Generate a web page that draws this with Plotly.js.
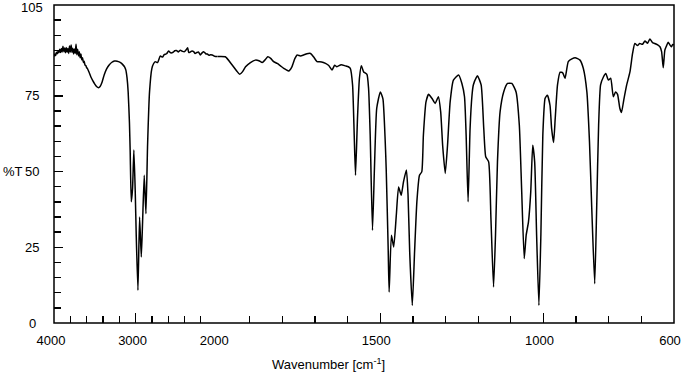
<!DOCTYPE html>
<html>
<head>
<meta charset="utf-8">
<script src="https://cdn.plot.ly/plotly-3.0.1.min.js"></script>
<style>html,body{margin:0;padding:0;background:#fff}#chart{width:683px;height:375px}</style>
</head>
<body>
<div id="chart"></div>
<script>
// Wavenumber (cm-1) and transmittance (%T)
const wavenumber = [
4000,3990,3980,3970,3960,3950,3940,3930,3920,3910,3900,3890,3880,3870,3860,3850,3840,3830,3820,3810,
3800,3790,3780,3770,3760,3750,3740,3730,3720,3710,3700,3690,3680,3670,3660,3650,3640,3630,3620,3610,
3600,3590,3570,3549,3525,3500,3475,3455,3435,3410,3385,3355,3324,3290,3260,3242,3210,3180,3160,3135,
3119,3105,3091,3075,3066,3053,3037,3021,3004,2992,2971,2951,2930,2914,2894,2873,2853,2829,2800,2780,
2759,2730,2697,2670,2650,2620,2595,2570,2540,2520,2500,2475,2451,2425,2400,2380,2362,2350,2340,2310,
2288,2270,2250,2230,2206,2185,2165,2140,2120,2100,2080,2060,2042,2020,2000,
1975,1954,1940,1931,1922,1913,1898,1883,1872,1862,1853,1845,1836,1827,1816,1806,1796,1788,1781,1771,
1762,1755,1745,1735,1725,1714,1704,1694,1680,1668,1658,1648,1640,1633,1620,1607,1598,1592,1585,1580,
1576,1570,1564,1558,1551,1541,1536,1531,1524,1518,1511,1500,1492,1485,1482,1476,1473,1466,1459,1451,
1444,1436,1429,1420,1415,1410,1402,1395,1388,1380,1373,1368,1360,1352,1342,1332,1322,1315,1309,1301,
1294,1286,1276,1260,1250,1242,1237,1231,1225,1219,1215,1206,1202,1191,1183,1177,1168,1161,1153,1147,
1141,1133,1122,1110,1097,1084,1074,1067,1059,1053,1046,1039,1033,1027,1021,1014,1008,1002,995,988,
980,975,969,964,957,949,941,934,924,913,903,888,878,867,859,852,843,837,831,825,
816,809,801,794,786,779,773,766,761,754,745,735,727,720,712,705,697,689,681,674,
666,659,650,643,638,633,628,623,618,613,608,604,600
];
const transmittance = [
88.0,88.8,88.3,89.4,88.9,89.8,89.2,90.4,89.3,90.6,89.5,91.4,89.6,90.8,89.2,91.0,89.4,90.6,89.0,91.5,
89.5,91.8,89.4,90.7,88.8,90.5,89.0,92.0,88.6,90.4,88.2,89.6,87.6,88.8,86.9,87.6,86.0,86.4,85.2,85.0,
84.3,84.0,82.8,81.3,80.0,78.9,78.0,77.7,78.1,79.6,81.9,83.9,85.2,86.1,86.5,86.5,86.3,85.9,85.4,84.6,
83.5,81.0,76.3,66.0,56.5,40.0,44.5,57.1,43.3,29.0,10.8,35.0,21.8,33.4,48.8,36.1,58.7,76.3,84.1,85.6,
86.3,86.0,88.2,87.8,88.6,88.9,89.8,89.2,89.4,89.9,90.0,89.5,90.1,89.7,89.6,90.2,90.9,89.4,89.3,89.8,
89.6,89.0,89.3,89.5,88.5,89.2,89.6,88.9,88.8,88.4,88.6,88.5,88.2,88.0,88.0,
87.9,85.2,83.2,82.1,83.0,84.6,86.0,86.8,86.6,86.0,86.9,87.9,87.4,86.3,85.7,84.9,84.1,83.6,83.2,84.6,
87.3,88.5,88.2,88.5,88.9,89.0,87.8,86.3,86.2,85.7,85.0,83.5,85.1,84.6,85.3,84.9,84.6,84.1,78.6,62.0,
48.8,67.5,80.8,84.9,82.9,82.1,77.5,62.0,30.6,51.0,70.9,76.3,74.0,60.0,51.0,25.0,10.2,29.0,25.1,35.6,
44.9,42.2,46.6,50.5,42.2,23.5,5.8,23.5,40.0,48.8,49.9,62.0,73.0,75.5,74.2,72.5,74.7,69.7,58.7,49.4,
58.7,73.0,80.2,81.9,79.1,74.7,62.0,40.0,64.0,75.2,78.6,81.0,81.6,78.6,64.2,54.9,53.2,34.5,11.9,29.0,
53.2,69.7,76.3,79.1,79.1,76.3,65.3,44.4,21.3,29.0,33.4,43.3,58.7,53.2,29.0,5.8,29.0,62.0,74.2,75.2,
71.9,64.2,59.6,67.5,78.6,82.8,82.6,80.8,86.3,87.2,87.6,86.8,84.1,76.3,59.8,37.8,13.0,37.8,65.3,78.6,
81.3,82.4,80.2,80.8,74.7,76.3,75.5,70.9,69.5,73.6,78.6,82.9,89.0,92.3,91.6,92.3,92.0,93.1,92.4,93.8,
92.6,92.3,91.8,91.2,89.6,84.3,90.1,91.5,92.7,91.9,91.2,92.0,91.8
];
const xTickVals1 = [4000, 3000, 2000];
const xMinor1 = [3800, 3600, 3400, 3200, 2800, 2600, 2400, 2200];
const xTickVals2 = [1500, 1000, 600];
const xMinor2 = [1900, 1800, 1700, 1600, 1400, 1300, 1200, 1100, 900, 800, 700];
const yTickVals = [0, 25, 50, 75, 105];
const yMinor = [5,10,15,20,30,35,40,45,55,60,65,70,80,85,90,95,100];

const split = 2000;
const hi = wavenumber.map((w,i)=>[w,transmittance[i]]).filter(p=>p[0]>=split);
const lo = wavenumber.map((w,i)=>[w,transmittance[i]]).filter(p=>p[0]<=split);

const font = {family: '"Liberation Sans", Arial, sans-serif', size: 13, color: '#000'};
const lineStyle = {color: '#000', width: 1.5, shape: 'spline', smoothing: 0.5};
const d1 = 500/1900;

const traces = [
  {x: hi.map(p=>p[0]), y: hi.map(p=>p[1]), xaxis: 'x', yaxis: 'y', mode: 'lines', line: lineStyle, hoverinfo: 'skip'},
  {x: lo.map(p=>p[0]), y: lo.map(p=>p[1]), xaxis: 'x2', yaxis: 'y', mode: 'lines', line: lineStyle, hoverinfo: 'skip'}
];

const xCommon = {
  ticks: 'inside', ticklen: 10, tickwidth: 1.3, tickcolor: '#000',
  showgrid: false, zeroline: false, showline: false, ticklabeloverflow: 'allow',
  tickfont: font, ticklabelstandoff: 8, ticklabelshift: 3, tickmode: 'array', anchor: 'y'
};

// y tick labels, centred like the reference
const yLabelAnnots = yTickVals.map(v => ({
  text: String(v), xref: 'paper', yref: 'y', x: 0, y: v, xshift: -22,
  yshift: v === 105 ? -2.5 : 0,
  xanchor: 'center', yanchor: 'middle', showarrow: false, font: font
}));

const layout = {
  width: 683, height: 375,
  margin: {l: 54, r: 9, t: 5, b: 52},
  paper_bgcolor: '#fff', plot_bgcolor: '#fff',
  showlegend: false,
  font: font,
  xaxis: Object.assign({}, xCommon, {
    domain: [0, d1], range: [4000, 2000], tickvals: xTickVals1, ticktext: xTickVals1.map(String),
    minor: {tickmode: 'array', tickvals: xMinor1, ticks: 'inside', ticklen: 7, tickwidth: 1.3, tickcolor: '#000'}
  }),
  xaxis2: Object.assign({}, xCommon, {
    domain: [d1, 1], range: [2000, 600], tickvals: xTickVals2, ticktext: xTickVals2.map(String),
    ticklabelshift: 4,
    minor: {tickmode: 'array', tickvals: xMinor2, ticks: 'inside', ticklen: 7, tickwidth: 1.3, tickcolor: '#000'}
  }),
  yaxis: {
    range: [0, 105], tickmode: 'array', tickvals: yTickVals, showticklabels: false,
    ticks: 'inside', ticklen: 9, tickwidth: 1.3, tickcolor: '#000',
    showgrid: false, zeroline: false, showline: false,
    minor: {tickmode: 'array', tickvals: yMinor, ticks: 'inside', ticklen: 7, tickwidth: 1.3, tickcolor: '#000'}
  },
  shapes: [
    {type: 'rect', xref: 'paper', yref: 'paper', x0: 0, x1: 1, y0: 0, y1: 1,
     line: {color: '#000', width: 1.5}, layer: 'above'}
  ],
  annotations: yLabelAnnots.concat([
    {text: '%T', xref: 'paper', yref: 'y', x: 0, xshift: -41.5, y: 50, xanchor: 'center', yanchor: 'middle',
     showarrow: false, font: font},
    {text: 'Wavenumber [cm<sup>-1</sup>]', xref: 'paper', yref: 'paper', x: 0.442, y: -0.128,
     xanchor: 'center', yanchor: 'middle', showarrow: false, font: font}
  ])
};

Plotly.newPlot('chart', traces, layout, {displayModeBar: false, staticPlot: true});
</script>
</body>
</html>
